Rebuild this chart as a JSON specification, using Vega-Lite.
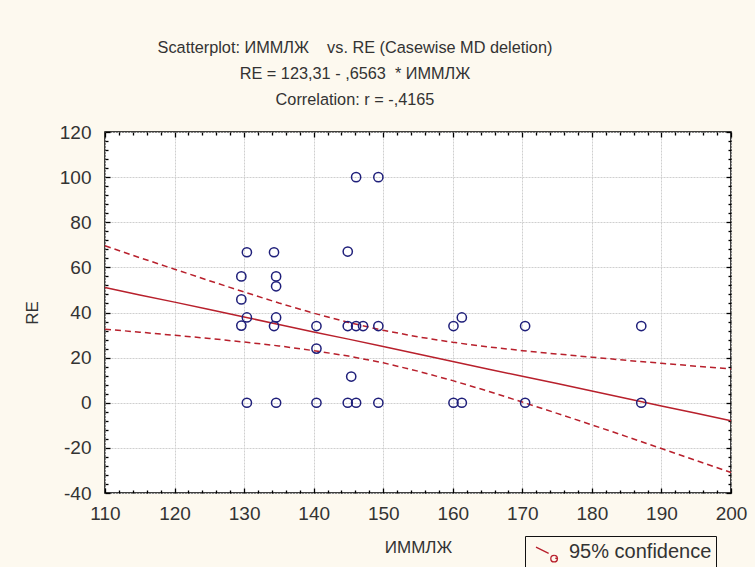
{
  "$schema": "https://vega.github.io/schema/vega-lite/v6.json",
  "autosize": {"type": "none"},
  "width": 626,
  "height": 361,
  "padding": {"left": 105, "top": 132, "right": 24, "bottom": 74},
  "background": "#fdf9ef",
  "config": {
    "view": {"fill": "white", "stroke": "black", "strokeWidth": 1.5},
    "font": "Liberation Sans",
    "axis": {"labelFont": "Liberation Sans", "titleFont": "Liberation Sans", "labelColor": "#333333", "titleColor": "#333333", "titleFontWeight": "normal", "domain": false, "gridColor": "#cfcfcf", "gridWidth": 1, "gridDash": [2, 1], "tickColor": "#000000", "tickWidth": 1.3, "labelFlush": false, "zindex": 1}
  },
  "title": {
    "text": ["Scatterplot: ИММЛЖ\u00a0\u00a0\u00a0 vs. RE (Casewise MD deletion)", "RE = 123,31 - ,6563\u00a0 * ИММЛЖ", "Correlation: r = -,4165"],
    "font": "Liberation Sans",
    "fontSize": 16.3,
    "fontWeight": "normal",
    "color": "#333333",
    "lineHeight": 26,
    "anchor": "middle",
    "dx": -63,
    "offset": 15
  },
  "datasets": {
    "pts": [
      {"x": 146.1, "y": 100}, {"x": 149.3, "y": 100},
      {"x": 130.4, "y": 66.7}, {"x": 134.3, "y": 66.7}, {"x": 144.9, "y": 67},
      {"x": 129.6, "y": 56}, {"x": 134.6, "y": 56}, {"x": 134.6, "y": 51.6},
      {"x": 129.6, "y": 45.8}, {"x": 130.4, "y": 37.8}, {"x": 134.6, "y": 37.8},
      {"x": 129.6, "y": 34.2}, {"x": 134.3, "y": 34}, {"x": 140.4, "y": 34},
      {"x": 144.9, "y": 34}, {"x": 146.1, "y": 34}, {"x": 147.1, "y": 34}, {"x": 149.3, "y": 34},
      {"x": 140.4, "y": 24}, {"x": 145.4, "y": 11.6},
      {"x": 130.4, "y": 0}, {"x": 134.6, "y": 0}, {"x": 140.4, "y": 0}, {"x": 144.9, "y": 0},
      {"x": 146.1, "y": 0}, {"x": 149.3, "y": 0},
      {"x": 160.1, "y": 34}, {"x": 161.3, "y": 37.8}, {"x": 170.4, "y": 34}, {"x": 187.1, "y": 34},
      {"x": 160.1, "y": 0}, {"x": 161.3, "y": 0}, {"x": 170.4, "y": 0}, {"x": 187.1, "y": 0}
    ],
    "fit": [
      {"x": 110, "fit": 51.1, "upper": 69.6, "lower": 32.6},
      {"x": 115, "fit": 47.8, "upper": 64.3, "lower": 31.3},
      {"x": 120, "fit": 44.6, "upper": 59.2, "lower": 29.9},
      {"x": 125, "fit": 41.3, "upper": 54.1, "lower": 28.5},
      {"x": 130, "fit": 38.0, "upper": 49.1, "lower": 26.9},
      {"x": 135, "fit": 34.7, "upper": 44.2, "lower": 25.2},
      {"x": 140, "fit": 31.4, "upper": 39.7, "lower": 23.1},
      {"x": 145, "fit": 28.2, "upper": 35.6, "lower": 20.7},
      {"x": 150, "fit": 24.9, "upper": 32.1, "lower": 17.7},
      {"x": 155, "fit": 21.6, "upper": 29.2, "lower": 14.0},
      {"x": 160, "fit": 18.3, "upper": 26.8, "lower": 9.8},
      {"x": 165, "fit": 15.0, "upper": 24.8, "lower": 5.2},
      {"x": 170, "fit": 11.7, "upper": 23.1, "lower": 0.3},
      {"x": 175, "fit": 8.5, "upper": 21.6, "lower": -4.7},
      {"x": 180, "fit": 5.2, "upper": 20.2, "lower": -9.8},
      {"x": 185, "fit": 1.9, "upper": 18.8, "lower": -15.0},
      {"x": 190, "fit": -1.4, "upper": 17.5, "lower": -20.3},
      {"x": 195, "fit": -4.7, "upper": 16.2, "lower": -25.6},
      {"x": 200, "fit": -8.0, "upper": 15.0, "lower": -30.9}
    ]
  },
  "layer": [
    {
      "data": {"name": "fit"},
      "mark": {"type": "line", "color": "#b8202c", "strokeWidth": 1.5},
      "encoding": {
        "x": {"field": "x", "type": "quantitative", "scale": {"domain": [110, 200], "nice": false, "zero": false},
          "axis": {"orient": "top", "labels": false, "title": null, "grid": false, "ticks": true, "tickSize": 5, "offset": -5, "values": [110, 120, 130, 140, 150, 160, 170, 180, 190, 200]}},
        "y": {"field": "fit", "type": "quantitative", "scale": {"domain": [-40, 120], "nice": false, "zero": false},
          "axis": {"orient": "right", "labels": false, "title": null, "grid": false, "ticks": true, "tickSize": 5, "offset": -5, "values": [-40, -20, 0, 20, 40, 60, 80, 100, 120]}}
      }
    },
    {
      "data": {"name": "fit"},
      "mark": {"type": "line", "strokeWidth": 1.5, "strokeDash": [6, 4]},
      "encoding": {
        "x": {"field": "x", "type": "quantitative",
          "axis": {"orient": "bottom", "labels": false, "title": null, "grid": false, "ticks": true, "tickSize": 3, "offset": -3, "values": [112, 114, 116, 118, 122, 124, 126, 128, 132, 134, 136, 138, 142, 144, 146, 148, 152, 154, 156, 158, 162, 164, 166, 168, 172, 174, 176, 178, 182, 184, 186, 188, 192, 194, 196, 198]}},
        "y": {"field": "upper", "type": "quantitative",
          "axis": {"orient": "left", "labels": false, "title": null, "grid": false, "ticks": true, "tickSize": 3, "offset": -3, "values": [-36, -32, -28, -24, -16, -12, -8, -4, 4, 8, 12, 16, 24, 28, 32, 36, 44, 48, 52, 56, 64, 68, 72, 76, 84, 88, 92, 96, 104, 108, 112, 116]}},
        "color": {"datum": "95% confidence", "type": "nominal", "scale": {"range": ["#b8202c"]},
          "legend": {"title": null, "orient": "none", "legendX": 420, "legendY": 404, "strokeColor": "#111111", "fillColor": "#fdf9ef", "padding": 4, "labelFont": "Liberation Sans", "labelFontSize": 20, "labelColor": "#333333", "symbolType": "M-1,-0.45L0.15,0.12M0.65,0.3A0.3,0.3 0 1 1 0.64,0.3M0.75,0.55L1,0.62", "symbolSize": 484, "symbolOffset": 6, "symbolStrokeWidth": 1.3, "symbolFillColor": "transparent", "symbolStrokeColor": "#6a2040", "labelOffset": 10}}
      }
    },
    {
      "data": {"name": "fit"},
      "mark": {"type": "line", "strokeWidth": 1.5, "strokeDash": [6, 4]},
      "encoding": {
        "x": {"field": "x", "type": "quantitative",
          "axis": {"orient": "top", "labels": false, "title": null, "grid": false, "ticks": true, "tickSize": 3, "offset": -3, "values": [112, 114, 116, 118, 122, 124, 126, 128, 132, 134, 136, 138, 142, 144, 146, 148, 152, 154, 156, 158, 162, 164, 166, 168, 172, 174, 176, 178, 182, 184, 186, 188, 192, 194, 196, 198]}},
        "y": {"field": "lower", "type": "quantitative",
          "axis": {"orient": "right", "labels": false, "title": null, "grid": false, "ticks": true, "tickSize": 3, "offset": -3, "values": [-36, -32, -28, -24, -16, -12, -8, -4, 4, 8, 12, 16, 24, 28, 32, 36, 44, 48, 52, 56, 64, 68, 72, 76, 84, 88, 92, 96, 104, 108, 112, 116]}},
        "color": {"datum": "95% confidence", "type": "nominal"}
      }
    },
    {
      "data": {"name": "pts"},
      "transform": [{"filter": "datum.y != 0"}],
      "mark": {"type": "point", "shape": "circle", "filled": false, "color": "#1f1f7a", "size": 85, "strokeWidth": 1.5, "opacity": 1},
      "encoding": {
        "x": {"field": "x", "type": "quantitative",
          "axis": {"orient": "bottom", "title": "ИММЛЖ", "titleFontSize": 17, "titlePadding": 16, "labelFontSize": 19, "labelPadding": 11, "grid": true, "ticks": false, "zindex": 0, "values": [110, 120, 130, 140, 150, 160, 170, 180, 190, 200]}},
        "y": {"field": "y", "type": "quantitative",
          "axis": {"orient": "left", "title": "RE", "titleFontSize": 17, "titlePadding": 18, "labelFontSize": 19, "labelPadding": 14, "grid": true, "ticks": false, "zindex": 0, "values": [-40, -20, 0, 20, 40, 60, 80, 100, 120], "labelExpr": "'' + datum.value"}}
      }
    },
    {
      "data": {"name": "pts"},
      "transform": [{"filter": "datum.y == 0"}],
      "mark": {"type": "point", "shape": "circle", "filled": false, "color": "#1f1f7a", "size": 85, "strokeWidth": 1.5, "opacity": 1},
      "encoding": {
        "x": {"field": "x", "type": "quantitative",
          "axis": {"orient": "bottom", "labels": false, "title": null, "grid": false, "ticks": true, "tickSize": 5, "offset": -5, "values": [110, 120, 130, 140, 150, 160, 170, 180, 190, 200]}},
        "y": {"field": "y", "type": "quantitative",
          "axis": {"orient": "left", "labels": false, "title": null, "grid": false, "ticks": true, "tickSize": 5, "offset": -5, "values": [-40, -20, 0, 20, 40, 60, 80, 100, 120]}}
      }
    }
  ]
}
